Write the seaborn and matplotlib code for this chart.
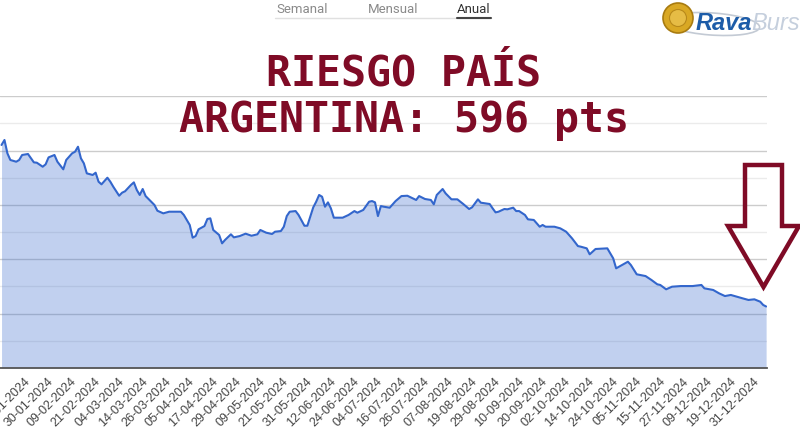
import numpy as np
import pandas as pd
import matplotlib
matplotlib.use("Agg")
import matplotlib.pyplot as plt
import seaborn as sns
from matplotlib.patches import Polygon, Ellipse
from matplotlib.lines import Line2D

# ---------------- data ----------------
dates = [
    "2024-01-05", "2024-01-08", "2024-01-09", "2024-01-10", "2024-01-12", "2024-01-15", "2024-01-16",
    "2024-01-18", "2024-01-22", "2024-01-23", "2024-01-25", "2024-01-26", "2024-01-29", "2024-01-31",
    "2024-02-01", "2024-02-05", "2024-02-06", "2024-02-08", "2024-02-09", "2024-02-12", "2024-02-13",
    "2024-02-14", "2024-02-15", "2024-02-19", "2024-02-20", "2024-02-21", "2024-02-22", "2024-02-26",
    "2024-02-27", "2024-02-28", "2024-03-01", "2024-03-04", "2024-03-05", "2024-03-07", "2024-03-08",
    "2024-03-11", "2024-03-12", "2024-03-13", "2024-03-14", "2024-03-19", "2024-03-20", "2024-03-22",
    "2024-03-26", "2024-04-01", "2024-04-02", "2024-04-04", "2024-04-05", "2024-04-08", "2024-04-09",
    "2024-04-11", "2024-04-12", "2024-04-15", "2024-04-16", "2024-04-18", "2024-04-19", "2024-04-22",
    "2024-04-24", "2024-04-25", "2024-04-29", "2024-05-01", "2024-05-03", "2024-05-07", "2024-05-08",
    "2024-05-10", "2024-05-14", "2024-05-15", "2024-05-17", "2024-05-20", "2024-05-21", "2024-05-22",
    "2024-05-24", "2024-05-27", "2024-05-29", "2024-05-30", "2024-06-03", "2024-06-04", "2024-06-05",
    "2024-06-06", "2024-06-07", "2024-06-10", "2024-06-11", "2024-06-12", "2024-06-17", "2024-06-19",
    "2024-06-21", "2024-06-24", "2024-06-26", "2024-06-28", "2024-07-01", "2024-07-02", "2024-07-03",
    "2024-07-04", "2024-07-05", "2024-07-09", "2024-07-11", "2024-07-15", "2024-07-17", "2024-07-22",
    "2024-07-23", "2024-07-25", "2024-07-29", "2024-07-30", "2024-07-31", "2024-08-02", "2024-08-05",
    "2024-08-07", "2024-08-09", "2024-08-13", "2024-08-15", "2024-08-16", "2024-08-20", "2024-08-21",
    "2024-08-26", "2024-08-27", "2024-08-28", "2024-08-29", "2024-09-02", "2024-09-03", "2024-09-05",
    "2024-09-06", "2024-09-09", "2024-09-11", "2024-09-12", "2024-09-16", "2024-09-18", "2024-09-19",
    "2024-09-20", "2024-09-25", "2024-09-27", "2024-10-01", "2024-10-03", "2024-10-07", "2024-10-08",
    "2024-10-10", "2024-10-11", "2024-10-15", "2024-10-21", "2024-10-23", "2024-10-24", "2024-10-28",
    "2024-10-30", "2024-10-31", "2024-11-04", "2024-11-07", "2024-11-11", "2024-11-13", "2024-11-14",
    "2024-11-18", "2024-11-20", "2024-11-25", "2024-11-29", "2024-12-04", "2024-12-05", "2024-12-10",
    "2024-12-12", "2024-12-16", "2024-12-18", "2024-12-20", "2024-12-24", "2024-12-26", "2024-12-30",
    "2025-01-01", "2025-01-02", "2025-01-03",
]
riesgo_pais = [
    2082, 2128, 2005, 1944, 1928, 1944, 1990,
    1999, 1922, 1919, 1882, 1904, 1968, 1990,
    1928, 1858, 1944, 2005, 2020, 2066, 1959,
    1913, 1821, 1806, 1827, 1744, 1720, 1781,
    1744, 1698, 1615, 1643, 1656, 1714, 1738,
    1668, 1622, 1677, 1612, 1530, 1477, 1453,
    1468, 1468, 1438, 1346, 1229, 1244, 1306,
    1336, 1401, 1407, 1300, 1254, 1177, 1208,
    1260, 1232, 1244, 1266, 1247, 1260, 1300,
    1275, 1263, 1284, 1290, 1330, 1428, 1468,
    1474, 1438, 1339, 1339, 1508, 1560, 1622,
    1606, 1514, 1554, 1499, 1413, 1413, 1438,
    1474, 1459, 1484, 1560, 1566, 1554, 1428,
    1520, 1514, 1505, 1566, 1612, 1615, 1576,
    1612, 1585, 1576, 1536, 1622, 1677, 1637,
    1582, 1582, 1539, 1493, 1508, 1582, 1551,
    1539, 1499, 1462, 1468, 1493, 1490, 1505,
    1474, 1474, 1438, 1398, 1392, 1330, 1346,
    1330, 1330, 1315, 1284, 1223, 1152, 1146,
    1131, 1076, 1125, 1131, 1039, 947, 978,
    1008, 978, 892, 876, 840, 800, 794,
    754, 778, 784, 784, 794, 763, 748,
    717, 692, 702, 686, 671, 656, 662,
    640, 610, 596,
]
tick_labels = [
    "18-01-2024", "30-01-2024", "09-02-2024", "21-02-2024", "04-03-2024", "14-03-2024",
    "26-03-2024", "05-04-2024", "17-04-2024", "29-04-2024", "09-05-2024", "21-05-2024",
    "31-05-2024", "12-06-2024", "24-06-2024", "04-07-2024", "16-07-2024", "26-07-2024",
    "07-08-2024", "19-08-2024", "29-08-2024", "10-09-2024", "20-09-2024", "02-10-2024",
    "14-10-2024", "24-10-2024", "05-11-2024", "15-11-2024", "27-11-2024", "09-12-2024",
    "19-12-2024", "31-12-2024",
]
tabs = ["Semanal", "Mensual", "Anual"]
title_1 = "RIESGO PAÍS"
title_2 = "ARGENTINA: 596 pts"

# ---------------- helpers ----------------
W, H = 800, 445
def fx(px):
    return px / W
def fy(py):
    return (H - py) / H

origin = np.datetime64("2024-01-18")
pos = np.busday_count(origin, np.array(dates, dtype="datetime64[D]"))
tick_dates = pd.to_datetime(tick_labels, format="%d-%m-%Y").values.astype("datetime64[D]")
tick_pos = np.busday_count(origin, tick_dates)
df = pd.DataFrame({"pos": pos, "riesgo": riesgo_pais})

# ---------------- figure ----------------
sns.set_style("white")
plt.rcParams["font.family"] = ["Liberation Sans", "DejaVu Sans"]

fig = plt.figure(figsize=(8, 4.45), dpi=100)
fig.patch.set_facecolor("white")
ax = fig.add_axes([0, fy(368), fx(767), fy(96.3) - fy(368)])

y_lo, y_step = 30, 250
ax.set_ylim(y_lo, y_lo + 10 * y_step)
ax.set_xlim(-9.52, 251.3)

ax.set_yticks(np.arange(y_lo + 2 * y_step, y_lo + 10 * y_step + 1, 2 * y_step))
ax.set_yticks(np.arange(y_lo + y_step, y_lo + 10 * y_step, 2 * y_step), minor=True)
ax.grid(True, which="major", axis="y", color="#cccccc", linewidth=1.0, zorder=0)
ax.grid(True, which="minor", axis="y", color="#ebebeb", linewidth=1.0, zorder=0)
ax.grid(False, axis="x")
ax.set_axisbelow(True)
ax.tick_params(axis="y", which="both", length=0, labelleft=False)

ax.fill_between(df["pos"], df["riesgo"], y_lo, color="#3366cc", alpha=0.3,
                linewidth=0, zorder=2)
sns.lineplot(data=df, x="pos", y="riesgo", ax=ax, color="#3366cc",
             linewidth=1.5, zorder=3)

ax.set_xticks(tick_pos)
ax.set_xticklabels(tick_labels, rotation=45, ha="right", va="center",
                   rotation_mode="anchor", fontsize=9, color="#444444")
ax.tick_params(axis="x", length=0, pad=8.5)
ax.set_xlabel("")
ax.set_ylabel("")
for s in ["top", "left", "right"]:
    ax.spines[s].set_visible(False)
ax.spines["bottom"].set_color("#555555")
ax.spines["bottom"].set_linewidth(1.3)
ax.spines["bottom"].set_zorder(4)

# ---------------- header tabs ----------------
tab_x = [302, 393, 474]
tab_col = ["#8a8a8a", "#8a8a8a", "#333333"]
for t, x, c in zip(tabs, tab_x, tab_col):
    fig.text(fx(x), fy(13), t, ha="center", va="baseline", fontsize=9.5,
             color=c, family=["Roboto", "DejaVu Sans"])
fig.add_artist(Line2D([fx(275), fx(491)], [fy(17.5), fy(17.5)], color="#e0e0e0",
                      linewidth=1.0, transform=fig.transFigure))
fig.add_artist(Line2D([fx(457), fx(491)], [fy(17.5), fy(17.5)], color="#444444",
                      linewidth=1.5, transform=fig.transFigure))

# ---------------- logo ----------------
fig.add_artist(Ellipse((fx(712), fy(24)), 96 / W, 22 / H, angle=-8,
                       transform=fig.transFigure, fill=False,
                       edgecolor="#c3cad4", linewidth=1.2))
fig.add_artist(Ellipse((fx(678), fy(18)), 30 / W, 30 / H, transform=fig.transFigure,
                       facecolor="#d9a824", edgecolor="#a87b10", linewidth=1.2))
fig.add_artist(Ellipse((fx(678), fy(18)), 17 / W, 17 / H, transform=fig.transFigure,
                       facecolor="#e6bc45", edgecolor="#b8891a", linewidth=0.8))
fig.text(fx(696), fy(30), "Rava", ha="left", va="baseline", fontsize=17,
         fontweight="bold", fontstyle="italic", color="#1d5ca8",
         family=["Liberation Sans", "DejaVu Sans"])
fig.text(fx(751), fy(30), "Bursátil", ha="left", va="baseline", fontsize=17,
         fontstyle="italic", color="#c5cfdd",
         family=["Liberation Sans", "DejaVu Sans"])

# ---------------- title ----------------
maroon = "#7f0b26"
fig.text(fx(403), fy(85), title_1, ha="center", va="baseline", fontsize=30,
         fontweight="bold", color=maroon, family=["DejaVu Sans Mono", "DejaVu Sans"])
fig.text(fx(404), fy(132), title_2, ha="center", va="baseline", fontsize=30,
         fontweight="bold", color=maroon, family=["DejaVu Sans Mono", "DejaVu Sans"])

# ---------------- arrow ----------------
arrow_px = [(745, 165), (782, 165), (782, 226), (799, 226), (763.5, 287),
            (728, 226), (745, 226)]
fig.add_artist(Polygon([(fx(x), fy(y)) for x, y in arrow_px], closed=True,
                       transform=fig.transFigure, facecolor="none",
                       edgecolor=maroon, linewidth=3.2, joinstyle="miter"))

fig.savefig("out.png", dpi=100, facecolor="white")
